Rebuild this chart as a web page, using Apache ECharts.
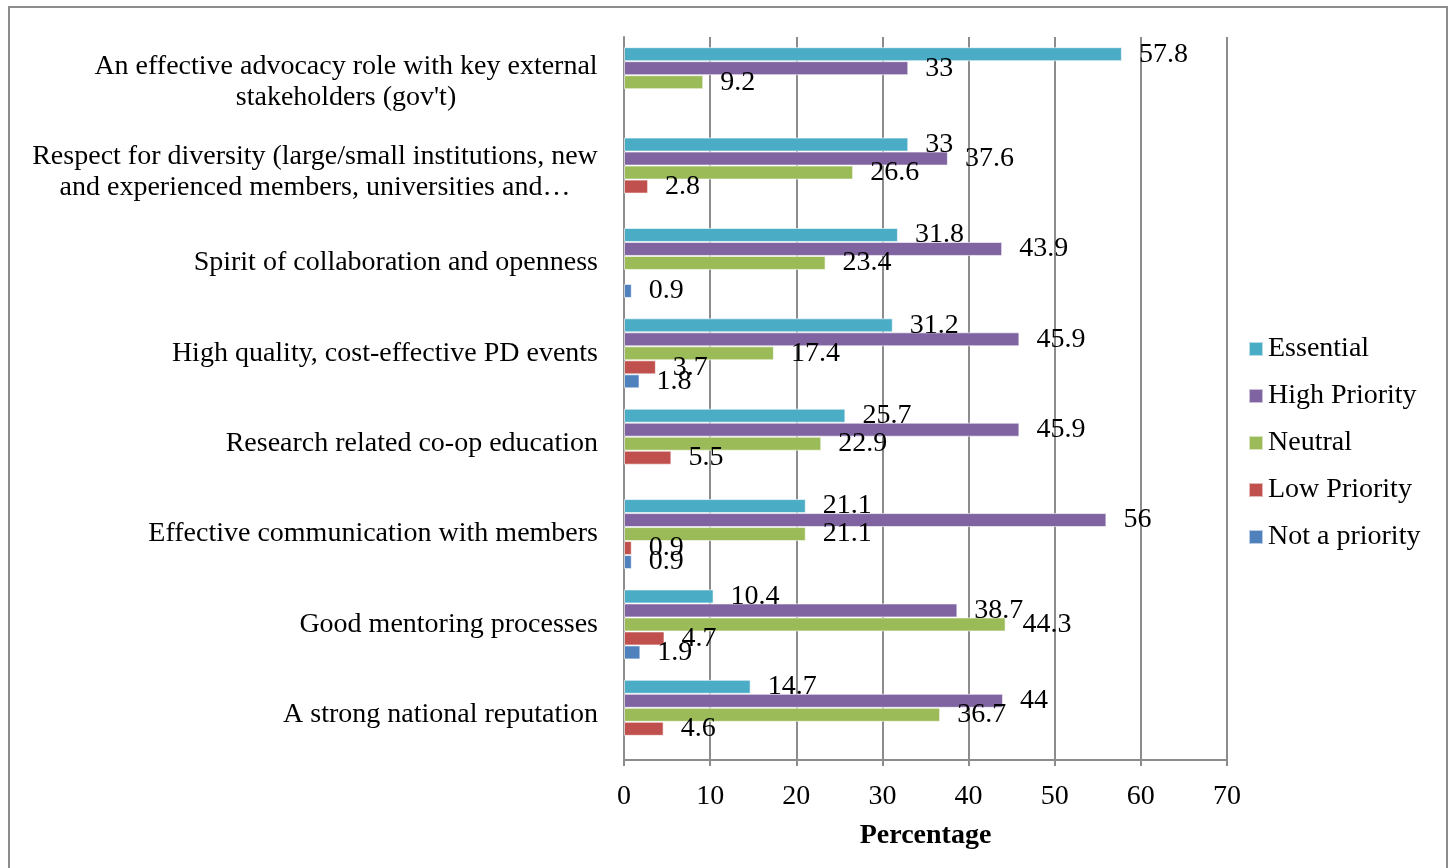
<!DOCTYPE html>
<html>
<head>
<meta charset="utf-8">
<script src="https://cdn.jsdelivr.net/npm/echarts@6/dist/echarts.min.js"></script>
<style>
  html, body { margin: 0; padding: 0; background: #fff; }
  #chart { width: 1455px; height: 868px; }
</style>
</head>
<body>
<div id="chart"></div>
<script>
// Survey priorities, one entry per statement (top to bottom)
const categories = [
  "An effective advocacy role with key external\nstakeholders (gov't)",
  "Respect for diversity (large/small institutions, new\nand experienced members, universities and…",
  "Spirit of collaboration and openness",
  "High quality, cost-effective PD events",
  "Research related co-op education",
  "Effective communication with members",
  "Good mentoring processes",
  "A strong national reputation"
];

const seriesNames = ["Essential", "High Priority", "Neutral", "Low Priority", "Not a priority"];

// Percentages per statement; null = no response in that group
const essential    = [57.8, 33,   31.8, 31.2, 25.7, 21.1, 10.4, 14.7];
const highPriority = [33,   37.6, 43.9, 45.9, 45.9, 56,   38.7, 44];
const neutral      = [9.2,  26.6, 23.4, 17.4, 22.9, 21.1, 44.3, 36.7];
const lowPriority  = [null, 2.8,  null, 3.7,  5.5,  0.9,  4.7,  4.6];
const notPriority  = [null, null, 0.9,  1.8,  null, 0.9,  1.9,  null];

const xTicks = [0, 10, 20, 30, 40, 50, 60, 70];

const colors = ["#4BACC6", "#8064A2", "#9BBB59", "#C0504D", "#4F81BD"];
const FONT = '"Liberation Serif", "Times New Roman", serif';
const FS = 28;

// each wrapped label gets a box as wide as its longest line, so its lines sit centred
const ctx = document.createElement('canvas').getContext('2d');
ctx.font = FS + 'px ' + FONT;
const rich = {};
categories.forEach((c, i) => {
  const w = Math.max.apply(null, c.split('\n').map(l => ctx.measureText(l).width));
  rich['r' + i] = { width: Math.ceil(w), align: 'center', fontFamily: FONT, fontSize: FS, lineHeight: 31, color: '#000' };
});

const valueSets = [essential, highPriority, neutral, lowPriority, notPriority];

const chart = echarts.init(document.getElementById('chart'), null, { renderer: 'canvas' });

chart.setOption({
  backgroundColor: '#ffffff',
  animation: false,
  graphic: [{
    type: 'rect',
    shape: { x: 9, y: 7, width: 1438, height: 900 },
    style: { fill: 'none', stroke: '#8c8c8c', lineWidth: 2 },
    silent: true
  }],
  grid: { left: 624, right: 228, top: 37, bottom: 108, containLabel: false },
  legend: {
    orient: 'vertical',
    left: 1243,
    top: 330,
    itemWidth: 14,
    itemHeight: 14,
    itemGap: 19,
    icon: 'rect',
    data: seriesNames,
    textStyle: { fontFamily: FONT, fontSize: FS, color: '#000' }
  },
  xAxis: {
    type: 'value',
    min: xTicks[0],
    max: xTicks[xTicks.length - 1],
    interval: 10,
    name: 'Percentage',
    nameLocation: 'middle',
    nameGap: 62,
    nameTextStyle: { fontFamily: FONT, fontSize: FS, fontWeight: 'bold', color: '#000' },
    axisLine: { show: true, lineStyle: { color: '#8c8c8c', width: 2 } },
    axisTick: { show: true, length: 6, lineStyle: { color: '#8c8c8c', width: 2 } },
    axisLabel: { fontFamily: FONT, fontSize: FS, color: '#000', margin: 23 },
    splitLine: { show: true, lineStyle: { color: '#8c8c8c', width: 2 } }
  },
  yAxis: {
    type: 'category',
    inverse: true,
    data: categories,
    axisLine: { show: true, lineStyle: { color: '#8c8c8c', width: 2 } },
    axisTick: { show: false },
    axisLabel: {
      fontFamily: FONT,
      fontSize: FS,
      color: '#000',
      margin: 26,
      lineHeight: 31,
      formatter: function (v, i) {
        if (v.indexOf('\n') < 0) return v;
        return v.split('\n').map(l => '{r' + i + '|' + l + '}').join('\n');
      },
      rich: rich
    }
  },
  series: seriesNames.map((name, i) => ({
    name: name,
    type: 'bar',
    data: valueSets[i],
    barWidth: 14,
    barGap: '0%',
    itemStyle: { color: colors[i], borderColor: 'rgba(255,255,255,0.6)', borderWidth: 1 },
    label: {
      show: true,
      position: 'right',
      distance: 17,
      fontFamily: FONT,
      fontSize: FS,
      color: '#000'
    }
  }))
});
</script>
</body>
</html>
